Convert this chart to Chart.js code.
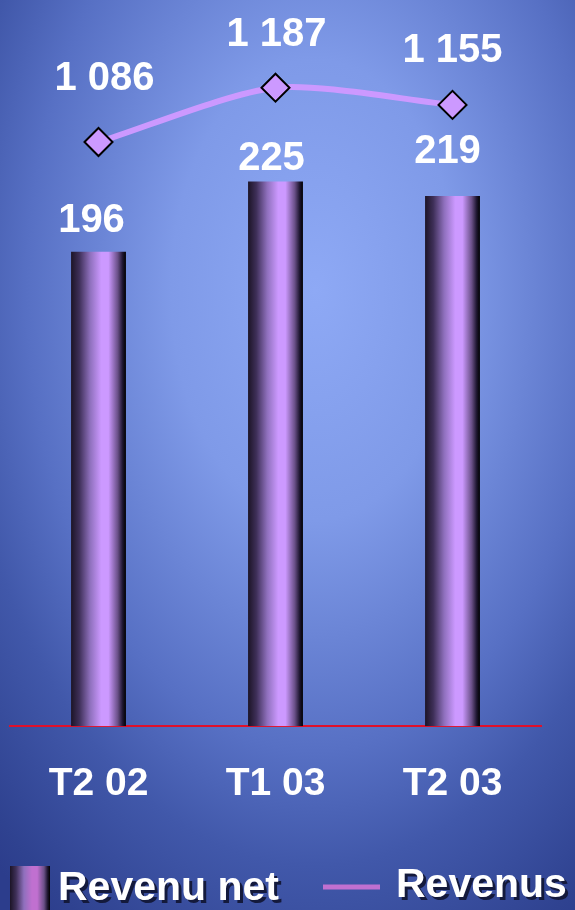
<!DOCTYPE html>
<html>
<head>
<meta charset="utf-8">
<script src="https://cdn.jsdelivr.net/npm/chart.js@4.4.0/dist/chart.umd.min.js"></script>
<style>
    html, body { margin: 0; padding: 0; background: #3a4fa0; overflow: hidden; }
    canvas { display: block; }
</style>
</head>
<body>
<canvas id="myChart" width="575" height="910"></canvas>
<script>
const categories = ['T2 02', 'T1 03', 'T2 03']
const revenuNet = [196, 225, 219]
const revenus = [1086, 1187, 1155]
const seriesNames = ['Revenu net', 'Revenus']

const FONT = '"Liberation Sans", Arial, sans-serif'

// 1086 -> "1 086"
function fmt(v) {
    return String(v).replace(/\B(?=(\d{3})+(?!\d))/g, ' ')
}

// dégradé horizontal du "cylindre" de chaque barre
function tubeGradient(ctx, x0, x1, light) {
    const g = ctx.createLinearGradient(x0, 0, x1, 0)
    g.addColorStop(0, '#1c1426')
    g.addColorStop(0.15, '#3e2f58')
    g.addColorStop(0.35, '#8f70bd')
    g.addColorStop(0.55, light)
    g.addColorStop(0.68, light)
    g.addColorStop(0.85, '#6a5088')
    g.addColorStop(0.94, '#1e1630')
    g.addColorStop(1, '#000000')
    return g
}

function barColor(c) {
    const chart = c.chart
    if (!chart.chartArea || !chart.scales.x) return '#cc99ff'
    const x = chart.scales.x.getPixelForValue(c.dataIndex)
    const w = chart.chartArea.width / categories.length * 0.31
    return tubeGradient(chart.ctx, x - w / 2, x + w / 2, '#cc99ff')
}

const backgroundPlugin = {
    id: 'bg',
    beforeDraw(chart) {
        const ctx = chart.ctx
        ctx.save()
        ctx.translate(315, 290)
        ctx.scale(1, 1.6)
        const g = ctx.createRadialGradient(0, 0, 0, 0, 0, 480)
        g.addColorStop(0, '#8ea9f5')
        g.addColorStop(0.3, '#7f9ae8')
        g.addColorStop(0.6, '#5770c4')
        g.addColorStop(0.75, '#4158aa')
        g.addColorStop(0.95, '#2f4290')
        g.addColorStop(1, '#2c3d8c')
        ctx.fillStyle = g
        ctx.fillRect(-400, -400, 1000, 900)
        ctx.restore()
    }
}

const valueLabels = {
    id: 'valueLabels',
    afterDatasetsDraw(chart, args, opts) {
        const ctx = chart.ctx
        ctx.save()
        ctx.font = 'bold 40px ' + FONT
        ctx.fillStyle = '#ffffff'
        ctx.textAlign = 'center'
        ctx.textBaseline = 'middle'
        chart.data.datasets.forEach((ds, di) => {
            chart.getDatasetMeta(di).data.forEach((el, i) => {
                const n = opts.nudge[di][i]
                ctx.fillText(fmt(ds.data[i]), el.x + n[0], el.y + n[1])
            })
        })
        ctx.restore()
    }
}

const bottomLegend = {
    id: 'bottomLegend',
    afterDraw(chart) {
        const ctx = chart.ctx
        ctx.save()
        ctx.fillStyle = tubeGradient(ctx, 10, 50, '#c070d0')
        ctx.fillRect(10, 866, 40, 50)
        ctx.strokeStyle = '#c070d0'
        ctx.lineWidth = 5
        ctx.beginPath()
        ctx.moveTo(323, 887)
        ctx.lineTo(380, 887)
        ctx.stroke()
        ctx.font = 'bold 41px ' + FONT
        ctx.textBaseline = 'middle'
        ctx.textAlign = 'left'
        ctx.shadowColor = '#141a3c'
        ctx.shadowOffsetX = 3
        ctx.shadowOffsetY = 3
        ctx.fillStyle = '#ffffff'
        ctx.fillText(seriesNames[0], 58, 889)
        ctx.fillText(seriesNames[1], 396, 886)
        ctx.restore()
    }
}

const config = {
    type: 'bar',
    data: {
        labels: categories,
        datasets: [{
            type: 'bar',
            label: seriesNames[0],
            data: revenuNet,
            yAxisID: 'y',
            order: 1,
            backgroundColor: barColor,
            borderWidth: 0,
            barPercentage: 0.31,
            categoryPercentage: 1
        }, {
            type: 'line',
            label: seriesNames[1],
            data: revenus,
            yAxisID: 'y1',
            order: 0,
            borderColor: '#cc99ff',
            borderWidth: 6,
            tension: 0.25,
            pointStyle: 'rectRot',
            pointRadius: 14,
            pointBackgroundColor: '#cc99ff',
            pointBorderColor: '#000000',
            pointBorderWidth: 2
        }]
    },
    options: {
        responsive: false,
        animation: false,
        layout: {
            autoPadding: false,
            padding: { left: 10, right: 34, top: 0, bottom: 67 }
        },
        scales: {
            x: {
                grid: { display: false, drawTicks: false },
                border: { display: true, color: '#e0102a', width: 2 },
                ticks: {
                    color: '#ffffff',
                    padding: 35,
                    maxRotation: 0,
                    font: { family: FONT, size: 39, weight: 'bold' }
                }
            },
            y: { display: false, min: 0, max: 300 },
            y1: { display: false, min: 0, max: 1350 }
        },
        plugins: {
            legend: { display: false },
            tooltip: { enabled: false },
            valueLabels: {
                nudge: [
                    [[-7, -31], [-4, -23], [-5, -44]],
                    [[6, -63], [1, -53], [0, -54]]
                ]
            }
        }
    },
    plugins: [backgroundPlugin, valueLabels, bottomLegend]
}

let myChart = new Chart(document.getElementById('myChart'), config)
</script>
</body>
</html>
